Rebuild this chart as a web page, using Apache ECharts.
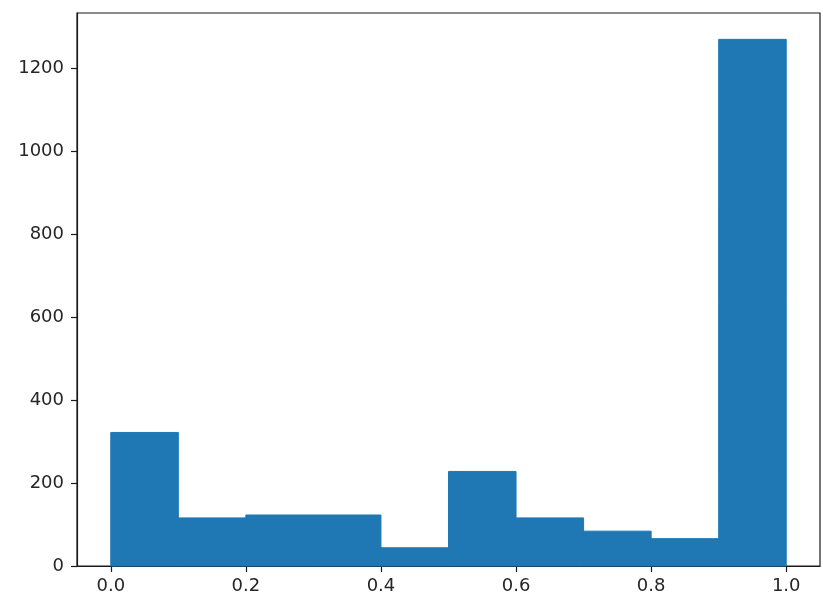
<!DOCTYPE html>
<html>
<head>
<meta charset="utf-8">
<script src="https://cdn.jsdelivr.net/npm/echarts@6/dist/echarts.min.js"></script>
<style>
  html, body { margin: 0; padding: 0; background: #fff; }
  #chart { width: 823px; height: 610px; }
</style>
</head>
<body>
<div id="chart"></div>
<script>
// Histogram bin edges (10 equal bins over 0..1)
const binStarts = [0.0, 0.1, 0.2, 0.3, 0.4, 0.5, 0.6, 0.7, 0.8, 0.9];
const binEnds   = [0.1, 0.2, 0.3, 0.4, 0.5, 0.6, 0.7, 0.8, 0.9, 1.0];
// Counts per bin
const counts = [322, 116, 123, 123, 44, 228, 116, 84, 66, 1270];
// Tick values
const xTicks = [0.0, 0.2, 0.4, 0.6, 0.8, 1.0];
const yTicks = [0, 200, 400, 600, 800, 1000, 1200];

const data = binStarts.map((s, i) => [s, binEnds[i], counts[i]]);
const yMax = Math.max(...counts) * 1.05;

const chart = echarts.init(document.getElementById('chart'), null, { renderer: 'canvas' });
const labelStyle = { color: '#262626', fontFamily: 'DejaVu Sans', fontSize: 18 };

chart.setOption({
  animation: false,
  backgroundColor: '#ffffff',
  grid: {
    left: 77, right: 3, top: 13, bottom: 44,
    show: true, borderColor: '#1a1a1a', borderWidth: 1.2, backgroundColor: 'transparent'
  },
  xAxis: {
    type: 'value', min: -0.05, max: 1.05,
    splitLine: { show: false },
    axisLine: { show: true, onZero: false, lineStyle: { color: '#1a1a1a', width: 1.2 } },
    axisTick: { show: true, customValues: xTicks, length: 6, lineStyle: { color: '#1a1a1a', width: 1.2 } },
    axisLabel: { ...labelStyle, customValues: xTicks, margin: 11, formatter: v => v.toFixed(1) }
  },
  yAxis: {
    type: 'value', min: 0, max: yMax,
    splitLine: { show: false },
    axisLine: { show: true, onZero: false, lineStyle: { color: '#1a1a1a', width: 1.2 } },
    axisTick: { show: true, customValues: yTicks, length: 6, lineStyle: { color: '#1a1a1a', width: 1.2 } },
    axisLabel: { ...labelStyle, customValues: yTicks, margin: 13, formatter: v => String(v) }
  },
  series: [{
    type: 'custom',
    data: data,
    encode: { x: [0, 1], y: 2 },
    renderItem: function (params, api) {
      const p0 = api.coord([api.value(0), 0]);
      const p1 = api.coord([api.value(1), api.value(2)]);
      return {
        type: 'rect',
        shape: { x: p0[0], y: p1[1], width: p1[0] - p0[0], height: p0[1] - p1[1] },
        style: { fill: '#1f77b4', stroke: '#1f77b4', lineWidth: 1 }
      };
    }
  }]
});
</script>
</body>
</html>
